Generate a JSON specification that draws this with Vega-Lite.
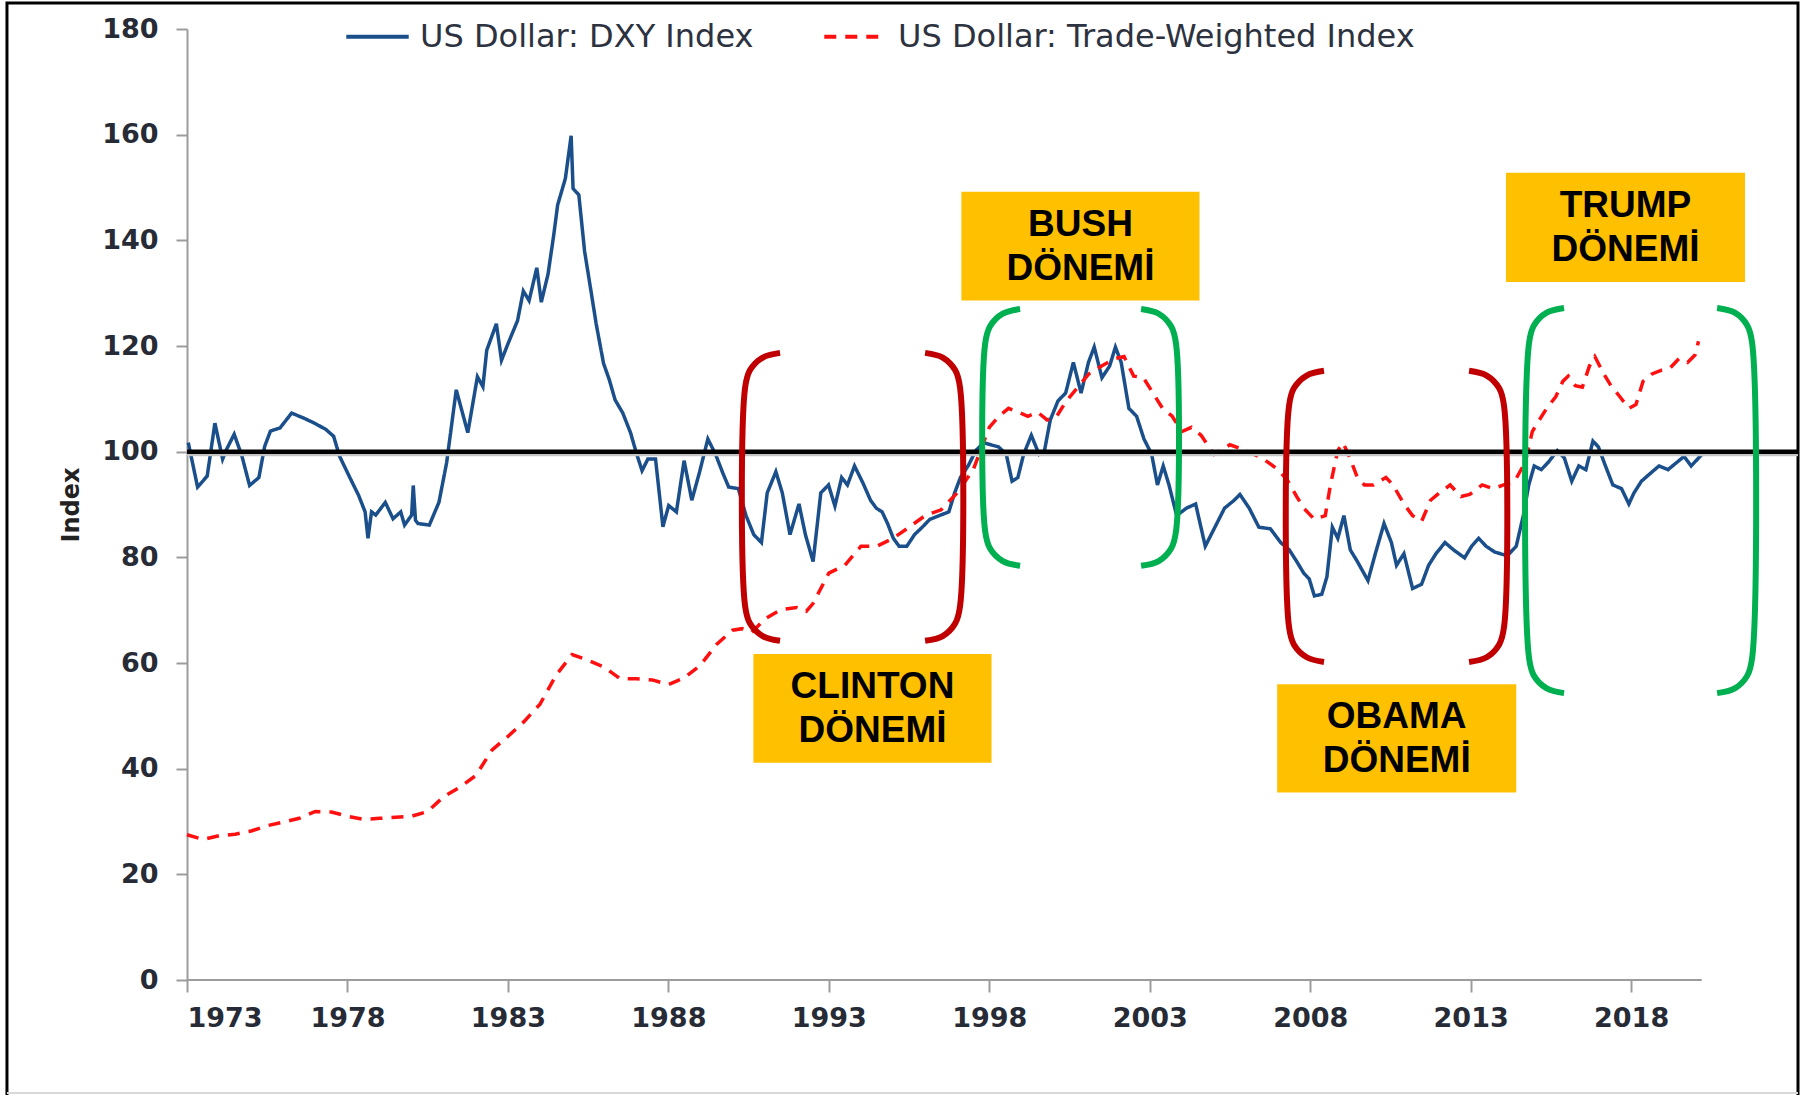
{
  "$schema": "https://vega.github.io/schema/vega-lite/v6.json",
  "autosize": {"type": "none"},
  "width": 1611,
  "height": 951,
  "padding": {"left": 187, "top": 29, "right": 14, "bottom": 115},
  "background": "white",
  "config": {
    "view": {"stroke": null},
    "axis": {"labelFont": "DejaVu Sans", "labelFontWeight": "bold", "labelFontSize": 27, "labelColor": "#262b36", "tickColor": "#9c9c9c", "domainColor": "#9c9c9c", "tickWidth": 2, "domainWidth": 2, "grid": false},
    "legend": {"orient": "none", "legendX": 157, "legendY": -26, "direction": "horizontal", "symbolType": "stroke", "symbolSize": 3900, "symbolStrokeWidth": 4, "labelFont": "DejaVu Sans", "labelFontSize": 32, "labelColor": "#2d3240", "labelLimit": 700, "labelOffset": 9, "columnPadding": 62, "title": null}
  },
  "datasets": {
    "series": [
      {"s":"US Dollar: DXY Index","t":1973.04,"v":101.7},{"s":"US Dollar: DXY Index","t":1973.33,"v":93.3},{"s":"US Dollar: DXY Index","t":1973.63,"v":95.4},{"s":"US Dollar: DXY Index","t":1973.87,"v":105.4},{"s":"US Dollar: DXY Index","t":1974.11,"v":98.6},{"s":"US Dollar: DXY Index","t":1974.23,"v":100.4},{"s":"US Dollar: DXY Index","t":1974.47,"v":103.3},{"s":"US Dollar: DXY Index","t":1974.71,"v":99.2},{"s":"US Dollar: DXY Index","t":1974.95,"v":93.6},{"s":"US Dollar: DXY Index","t":1975.24,"v":95.1},{"s":"US Dollar: DXY Index","t":1975.42,"v":101},{"s":"US Dollar: DXY Index","t":1975.6,"v":103.9},{"s":"US Dollar: DXY Index","t":1975.9,"v":104.5},{"s":"US Dollar: DXY Index","t":1976.26,"v":107.3},{"s":"US Dollar: DXY Index","t":1976.62,"v":106.4},{"s":"US Dollar: DXY Index","t":1976.97,"v":105.4},{"s":"US Dollar: DXY Index","t":1977.33,"v":104.2},{"s":"US Dollar: DXY Index","t":1977.57,"v":102.9},{"s":"US Dollar: DXY Index","t":1977.75,"v":99.2},{"s":"US Dollar: DXY Index","t":1978.05,"v":95.4},{"s":"US Dollar: DXY Index","t":1978.35,"v":91.7},{"s":"US Dollar: DXY Index","t":1978.55,"v":88.6},{"s":"US Dollar: DXY Index","t":1978.64,"v":83.6},{"s":"US Dollar: DXY Index","t":1978.75,"v":88.6},{"s":"US Dollar: DXY Index","t":1978.88,"v":88},{"s":"US Dollar: DXY Index","t":1979.18,"v":90.4},{"s":"US Dollar: DXY Index","t":1979.42,"v":87.3},{"s":"US Dollar: DXY Index","t":1979.66,"v":88.6},{"s":"US Dollar: DXY Index","t":1979.78,"v":86.1},{"s":"US Dollar: DXY Index","t":1980.0,"v":88},{"s":"US Dollar: DXY Index","t":1980.05,"v":93.6},{"s":"US Dollar: DXY Index","t":1980.12,"v":87},{"s":"US Dollar: DXY Index","t":1980.2,"v":86.4},{"s":"US Dollar: DXY Index","t":1980.55,"v":86.1},{"s":"US Dollar: DXY Index","t":1980.85,"v":90.4},{"s":"US Dollar: DXY Index","t":1981.09,"v":97.9},{"s":"US Dollar: DXY Index","t":1981.39,"v":111.7},{"s":"US Dollar: DXY Index","t":1981.75,"v":103.6},{"s":"US Dollar: DXY Index","t":1982.05,"v":114.2},{"s":"US Dollar: DXY Index","t":1982.22,"v":112.3},{"s":"US Dollar: DXY Index","t":1982.34,"v":119.2},{"s":"US Dollar: DXY Index","t":1982.64,"v":124.2},{"s":"US Dollar: DXY Index","t":1982.8,"v":117.3},{"s":"US Dollar: DXY Index","t":1983.0,"v":120.4},{"s":"US Dollar: DXY Index","t":1983.3,"v":124.8},{"s":"US Dollar: DXY Index","t":1983.48,"v":130.4},{"s":"US Dollar: DXY Index","t":1983.66,"v":128.6},{"s":"US Dollar: DXY Index","t":1983.9,"v":134.8},{"s":"US Dollar: DXY Index","t":1984.04,"v":128.3},{"s":"US Dollar: DXY Index","t":1984.25,"v":133.6},{"s":"US Dollar: DXY Index","t":1984.43,"v":141.1},{"s":"US Dollar: DXY Index","t":1984.55,"v":146.7},{"s":"US Dollar: DXY Index","t":1984.79,"v":151.7},{"s":"US Dollar: DXY Index","t":1984.97,"v":159.8},{"s":"US Dollar: DXY Index","t":1985.03,"v":149.8},{"s":"US Dollar: DXY Index","t":1985.21,"v":148.6},{"s":"US Dollar: DXY Index","t":1985.39,"v":137.9},{"s":"US Dollar: DXY Index","t":1985.57,"v":131.1},{"s":"US Dollar: DXY Index","t":1985.75,"v":124.2},{"s":"US Dollar: DXY Index","t":1985.98,"v":116.7},{"s":"US Dollar: DXY Index","t":1986.16,"v":113.6},{"s":"US Dollar: DXY Index","t":1986.34,"v":109.8},{"s":"US Dollar: DXY Index","t":1986.58,"v":107.3},{"s":"US Dollar: DXY Index","t":1986.82,"v":103.6},{"s":"US Dollar: DXY Index","t":1987.0,"v":99.8},{"s":"US Dollar: DXY Index","t":1987.18,"v":96.4},{"s":"US Dollar: DXY Index","t":1987.36,"v":98.6},{"s":"US Dollar: DXY Index","t":1987.6,"v":98.6},{"s":"US Dollar: DXY Index","t":1987.83,"v":85.8},{"s":"US Dollar: DXY Index","t":1988.01,"v":89.8},{"s":"US Dollar: DXY Index","t":1988.25,"v":88.6},{"s":"US Dollar: DXY Index","t":1988.49,"v":98.3},{"s":"US Dollar: DXY Index","t":1988.73,"v":90.8},{"s":"US Dollar: DXY Index","t":1988.97,"v":96.1},{"s":"US Dollar: DXY Index","t":1989.23,"v":102.4},{"s":"US Dollar: DXY Index","t":1989.47,"v":99.5},{"s":"US Dollar: DXY Index","t":1989.7,"v":95.9},{"s":"US Dollar: DXY Index","t":1989.88,"v":93.3},{"s":"US Dollar: DXY Index","t":1990.18,"v":93},{"s":"US Dollar: DXY Index","t":1990.42,"v":87.9},{"s":"US Dollar: DXY Index","t":1990.66,"v":84.3},{"s":"US Dollar: DXY Index","t":1990.9,"v":82.8},{"s":"US Dollar: DXY Index","t":1991.08,"v":92.2},{"s":"US Dollar: DXY Index","t":1991.35,"v":96.2},{"s":"US Dollar: DXY Index","t":1991.55,"v":92.2},{"s":"US Dollar: DXY Index","t":1991.79,"v":84.3},{"s":"US Dollar: DXY Index","t":1992.07,"v":90.1},{"s":"US Dollar: DXY Index","t":1992.27,"v":84.3},{"s":"US Dollar: DXY Index","t":1992.51,"v":79.2},{"s":"US Dollar: DXY Index","t":1992.75,"v":92.2},{"s":"US Dollar: DXY Index","t":1992.99,"v":93.7},{"s":"US Dollar: DXY Index","t":1993.19,"v":89.7},{"s":"US Dollar: DXY Index","t":1993.4,"v":95.1},{"s":"US Dollar: DXY Index","t":1993.58,"v":93.7},{"s":"US Dollar: DXY Index","t":1993.8,"v":97.3},{"s":"US Dollar: DXY Index","t":1994.06,"v":94.1},{"s":"US Dollar: DXY Index","t":1994.3,"v":90.8},{"s":"US Dollar: DXY Index","t":1994.48,"v":89.3},{"s":"US Dollar: DXY Index","t":1994.66,"v":88.6},{"s":"US Dollar: DXY Index","t":1994.83,"v":86.4},{"s":"US Dollar: DXY Index","t":1995.01,"v":83.6},{"s":"US Dollar: DXY Index","t":1995.19,"v":82.1},{"s":"US Dollar: DXY Index","t":1995.43,"v":82.1},{"s":"US Dollar: DXY Index","t":1995.67,"v":84.3},{"s":"US Dollar: DXY Index","t":1995.91,"v":85.7},{"s":"US Dollar: DXY Index","t":1996.15,"v":87.2},{"s":"US Dollar: DXY Index","t":1996.44,"v":87.9},{"s":"US Dollar: DXY Index","t":1996.74,"v":88.6},{"s":"US Dollar: DXY Index","t":1996.92,"v":92.2},{"s":"US Dollar: DXY Index","t":1997.1,"v":95.1},{"s":"US Dollar: DXY Index","t":1997.34,"v":97.3},{"s":"US Dollar: DXY Index","t":1997.58,"v":100.2},{"s":"US Dollar: DXY Index","t":1997.82,"v":101.7},{"s":"US Dollar: DXY Index","t":1998.05,"v":101.3},{"s":"US Dollar: DXY Index","t":1998.29,"v":100.9},{"s":"US Dollar: DXY Index","t":1998.53,"v":99.5},{"s":"US Dollar: DXY Index","t":1998.71,"v":94.4},{"s":"US Dollar: DXY Index","t":1998.89,"v":95.1},{"s":"US Dollar: DXY Index","t":1999.07,"v":99.5},{"s":"US Dollar: DXY Index","t":1999.31,"v":103.1},{"s":"US Dollar: DXY Index","t":1999.55,"v":99.5},{"s":"US Dollar: DXY Index","t":1999.72,"v":100.2},{"s":"US Dollar: DXY Index","t":1999.9,"v":106},{"s":"US Dollar: DXY Index","t":2000.14,"v":109.6},{"s":"US Dollar: DXY Index","t":2000.38,"v":111.1},{"s":"US Dollar: DXY Index","t":2000.62,"v":116.9},{"s":"US Dollar: DXY Index","t":2000.86,"v":111.1},{"s":"US Dollar: DXY Index","t":2001.09,"v":116.9},{"s":"US Dollar: DXY Index","t":2001.27,"v":119.8},{"s":"US Dollar: DXY Index","t":2001.51,"v":114},{"s":"US Dollar: DXY Index","t":2001.75,"v":116.2},{"s":"US Dollar: DXY Index","t":2001.93,"v":119.8},{"s":"US Dollar: DXY Index","t":2002.11,"v":116.9},{"s":"US Dollar: DXY Index","t":2002.35,"v":108.2},{"s":"US Dollar: DXY Index","t":2002.59,"v":106.7},{"s":"US Dollar: DXY Index","t":2002.82,"v":102.4},{"s":"US Dollar: DXY Index","t":2003.06,"v":99.5},{"s":"US Dollar: DXY Index","t":2003.24,"v":93.7},{"s":"US Dollar: DXY Index","t":2003.42,"v":97.3},{"s":"US Dollar: DXY Index","t":2003.6,"v":93.7},{"s":"US Dollar: DXY Index","t":2003.84,"v":87.9},{"s":"US Dollar: DXY Index","t":2004.14,"v":89.3},{"s":"US Dollar: DXY Index","t":2004.43,"v":90.1},{"s":"US Dollar: DXY Index","t":2004.73,"v":82.1},{"s":"US Dollar: DXY Index","t":2005.03,"v":85.7},{"s":"US Dollar: DXY Index","t":2005.33,"v":89.3},{"s":"US Dollar: DXY Index","t":2005.63,"v":90.8},{"s":"US Dollar: DXY Index","t":2005.81,"v":91.9},{"s":"US Dollar: DXY Index","t":2006.1,"v":89.3},{"s":"US Dollar: DXY Index","t":2006.4,"v":85.7},{"s":"US Dollar: DXY Index","t":2006.76,"v":85.4},{"s":"US Dollar: DXY Index","t":2007.08,"v":82.8},{"s":"US Dollar: DXY Index","t":2007.35,"v":81.4},{"s":"US Dollar: DXY Index","t":2007.58,"v":79.2},{"s":"US Dollar: DXY Index","t":2007.8,"v":77},{"s":"US Dollar: DXY Index","t":2007.97,"v":75.9},{"s":"US Dollar: DXY Index","t":2008.13,"v":72.7},{"s":"US Dollar: DXY Index","t":2008.36,"v":73},{"s":"US Dollar: DXY Index","t":2008.52,"v":76.3},{"s":"US Dollar: DXY Index","t":2008.69,"v":85.7},{"s":"US Dollar: DXY Index","t":2008.86,"v":83.6},{"s":"US Dollar: DXY Index","t":2009.05,"v":87.9},{"s":"US Dollar: DXY Index","t":2009.25,"v":81.4},{"s":"US Dollar: DXY Index","t":2009.47,"v":79.2},{"s":"US Dollar: DXY Index","t":2009.8,"v":75.6},{"s":"US Dollar: DXY Index","t":2010.03,"v":80.7},{"s":"US Dollar: DXY Index","t":2010.3,"v":86.4},{"s":"US Dollar: DXY Index","t":2010.53,"v":82.8},{"s":"US Dollar: DXY Index","t":2010.69,"v":78.5},{"s":"US Dollar: DXY Index","t":2010.92,"v":80.7},{"s":"US Dollar: DXY Index","t":2011.19,"v":74.1},{"s":"US Dollar: DXY Index","t":2011.47,"v":74.9},{"s":"US Dollar: DXY Index","t":2011.69,"v":78.5},{"s":"US Dollar: DXY Index","t":2011.92,"v":80.7},{"s":"US Dollar: DXY Index","t":2012.2,"v":82.8},{"s":"US Dollar: DXY Index","t":2012.47,"v":81.4},{"s":"US Dollar: DXY Index","t":2012.81,"v":79.9},{"s":"US Dollar: DXY Index","t":2013.03,"v":82.1},{"s":"US Dollar: DXY Index","t":2013.25,"v":83.6},{"s":"US Dollar: DXY Index","t":2013.48,"v":82.1},{"s":"US Dollar: DXY Index","t":2013.75,"v":81},{"s":"US Dollar: DXY Index","t":2014.14,"v":80.3},{"s":"US Dollar: DXY Index","t":2014.42,"v":82.1},{"s":"US Dollar: DXY Index","t":2014.64,"v":87.9},{"s":"US Dollar: DXY Index","t":2014.81,"v":93.7},{"s":"US Dollar: DXY Index","t":2014.98,"v":97.3},{"s":"US Dollar: DXY Index","t":2015.2,"v":96.6},{"s":"US Dollar: DXY Index","t":2015.42,"v":98},{"s":"US Dollar: DXY Index","t":2015.7,"v":100.2},{"s":"US Dollar: DXY Index","t":2015.92,"v":98.8},{"s":"US Dollar: DXY Index","t":2016.15,"v":94.4},{"s":"US Dollar: DXY Index","t":2016.37,"v":97.3},{"s":"US Dollar: DXY Index","t":2016.59,"v":96.6},{"s":"US Dollar: DXY Index","t":2016.81,"v":102},{"s":"US Dollar: DXY Index","t":2016.98,"v":100.9},{"s":"US Dollar: DXY Index","t":2017.2,"v":97.3},{"s":"US Dollar: DXY Index","t":2017.43,"v":93.7},{"s":"US Dollar: DXY Index","t":2017.7,"v":93},{"s":"US Dollar: DXY Index","t":2017.93,"v":90.1},{"s":"US Dollar: DXY Index","t":2018.09,"v":92.2},{"s":"US Dollar: DXY Index","t":2018.32,"v":94.4},{"s":"US Dollar: DXY Index","t":2018.6,"v":95.9},{"s":"US Dollar: DXY Index","t":2018.87,"v":97.3},{"s":"US Dollar: DXY Index","t":2019.15,"v":96.6},{"s":"US Dollar: DXY Index","t":2019.43,"v":98},{"s":"US Dollar: DXY Index","t":2019.65,"v":99.1},{"s":"US Dollar: DXY Index","t":2019.87,"v":97.3},{"s":"US Dollar: DXY Index","t":2020.21,"v":99.5},
      {"s":"US Dollar: Trade-Weighted Index","t":1973.0,"v":27.5},{"s":"US Dollar: Trade-Weighted Index","t":1973.5,"v":26.6},{"s":"US Dollar: Trade-Weighted Index","t":1974.0,"v":27.3},{"s":"US Dollar: Trade-Weighted Index","t":1974.5,"v":27.6},{"s":"US Dollar: Trade-Weighted Index","t":1975.0,"v":28.2},{"s":"US Dollar: Trade-Weighted Index","t":1975.5,"v":29.2},{"s":"US Dollar: Trade-Weighted Index","t":1976.0,"v":29.9},{"s":"US Dollar: Trade-Weighted Index","t":1976.5,"v":30.6},{"s":"US Dollar: Trade-Weighted Index","t":1977.0,"v":31.9},{"s":"US Dollar: Trade-Weighted Index","t":1977.5,"v":31.8},{"s":"US Dollar: Trade-Weighted Index","t":1978.0,"v":31},{"s":"US Dollar: Trade-Weighted Index","t":1978.5,"v":30.4},{"s":"US Dollar: Trade-Weighted Index","t":1979.0,"v":30.6},{"s":"US Dollar: Trade-Weighted Index","t":1979.5,"v":30.8},{"s":"US Dollar: Trade-Weighted Index","t":1980.0,"v":31},{"s":"US Dollar: Trade-Weighted Index","t":1980.5,"v":31.9},{"s":"US Dollar: Trade-Weighted Index","t":1981.0,"v":34.7},{"s":"US Dollar: Trade-Weighted Index","t":1981.5,"v":36.5},{"s":"US Dollar: Trade-Weighted Index","t":1982.0,"v":38.7},{"s":"US Dollar: Trade-Weighted Index","t":1982.5,"v":43.5},{"s":"US Dollar: Trade-Weighted Index","t":1983.0,"v":46.1},{"s":"US Dollar: Trade-Weighted Index","t":1983.5,"v":48.9},{"s":"US Dollar: Trade-Weighted Index","t":1984.0,"v":52.2},{"s":"US Dollar: Trade-Weighted Index","t":1984.5,"v":57.7},{"s":"US Dollar: Trade-Weighted Index","t":1985.0,"v":61.6},{"s":"US Dollar: Trade-Weighted Index","t":1985.5,"v":60.5},{"s":"US Dollar: Trade-Weighted Index","t":1986.0,"v":59.2},{"s":"US Dollar: Trade-Weighted Index","t":1986.5,"v":57},{"s":"US Dollar: Trade-Weighted Index","t":1987.0,"v":57},{"s":"US Dollar: Trade-Weighted Index","t":1987.5,"v":56.8},{"s":"US Dollar: Trade-Weighted Index","t":1988.0,"v":55.9},{"s":"US Dollar: Trade-Weighted Index","t":1988.5,"v":57.2},{"s":"US Dollar: Trade-Weighted Index","t":1989.0,"v":59.6},{"s":"US Dollar: Trade-Weighted Index","t":1989.5,"v":63.5},{"s":"US Dollar: Trade-Weighted Index","t":1990.0,"v":66.2},{"s":"US Dollar: Trade-Weighted Index","t":1990.3,"v":66.5},{"s":"US Dollar: Trade-Weighted Index","t":1990.6,"v":65.8},{"s":"US Dollar: Trade-Weighted Index","t":1991.0,"v":68.3},{"s":"US Dollar: Trade-Weighted Index","t":1991.5,"v":70.1},{"s":"US Dollar: Trade-Weighted Index","t":1992.0,"v":70.5},{"s":"US Dollar: Trade-Weighted Index","t":1992.3,"v":69.8},{"s":"US Dollar: Trade-Weighted Index","t":1992.5,"v":71.2},{"s":"US Dollar: Trade-Weighted Index","t":1993.0,"v":77},{"s":"US Dollar: Trade-Weighted Index","t":1993.5,"v":78.5},{"s":"US Dollar: Trade-Weighted Index","t":1994.0,"v":82.1},{"s":"US Dollar: Trade-Weighted Index","t":1994.5,"v":82.1},{"s":"US Dollar: Trade-Weighted Index","t":1995.0,"v":83.6},{"s":"US Dollar: Trade-Weighted Index","t":1995.5,"v":85.7},{"s":"US Dollar: Trade-Weighted Index","t":1996.0,"v":87.9},{"s":"US Dollar: Trade-Weighted Index","t":1996.5,"v":89},{"s":"US Dollar: Trade-Weighted Index","t":1997.0,"v":92.2},{"s":"US Dollar: Trade-Weighted Index","t":1997.5,"v":96.6},{"s":"US Dollar: Trade-Weighted Index","t":1998.0,"v":104.6},{"s":"US Dollar: Trade-Weighted Index","t":1998.3,"v":106.7},{"s":"US Dollar: Trade-Weighted Index","t":1998.6,"v":108.2},{"s":"US Dollar: Trade-Weighted Index","t":1998.9,"v":107.5},{"s":"US Dollar: Trade-Weighted Index","t":1999.2,"v":106.7},{"s":"US Dollar: Trade-Weighted Index","t":1999.5,"v":107.5},{"s":"US Dollar: Trade-Weighted Index","t":1999.8,"v":106},{"s":"US Dollar: Trade-Weighted Index","t":2000.1,"v":106.7},{"s":"US Dollar: Trade-Weighted Index","t":2000.4,"v":109.6},{"s":"US Dollar: Trade-Weighted Index","t":2000.8,"v":112.5},{"s":"US Dollar: Trade-Weighted Index","t":2001.1,"v":114.7},{"s":"US Dollar: Trade-Weighted Index","t":2001.5,"v":116.2},{"s":"US Dollar: Trade-Weighted Index","t":2001.9,"v":117.6},{"s":"US Dollar: Trade-Weighted Index","t":2002.2,"v":118},{"s":"US Dollar: Trade-Weighted Index","t":2002.5,"v":114.3},{"s":"US Dollar: Trade-Weighted Index","t":2002.8,"v":114},{"s":"US Dollar: Trade-Weighted Index","t":2003.1,"v":111.1},{"s":"US Dollar: Trade-Weighted Index","t":2003.4,"v":108.2},{"s":"US Dollar: Trade-Weighted Index","t":2003.7,"v":106.7},{"s":"US Dollar: Trade-Weighted Index","t":2004.0,"v":103.8},{"s":"US Dollar: Trade-Weighted Index","t":2004.3,"v":104.6},{"s":"US Dollar: Trade-Weighted Index","t":2004.6,"v":103.1},{"s":"US Dollar: Trade-Weighted Index","t":2005.0,"v":99.5},{"s":"US Dollar: Trade-Weighted Index","t":2005.5,"v":101.3},{"s":"US Dollar: Trade-Weighted Index","t":2006.0,"v":100.2},{"s":"US Dollar: Trade-Weighted Index","t":2006.5,"v":98.8},{"s":"US Dollar: Trade-Weighted Index","t":2007.0,"v":96.6},{"s":"US Dollar: Trade-Weighted Index","t":2007.3,"v":94.5},{"s":"US Dollar: Trade-Weighted Index","t":2007.58,"v":91.5},{"s":"US Dollar: Trade-Weighted Index","t":2007.8,"v":89.3},{"s":"US Dollar: Trade-Weighted Index","t":2008.13,"v":87.2},{"s":"US Dollar: Trade-Weighted Index","t":2008.47,"v":87.9},{"s":"US Dollar: Trade-Weighted Index","t":2008.63,"v":93.7},{"s":"US Dollar: Trade-Weighted Index","t":2008.86,"v":100.2},{"s":"US Dollar: Trade-Weighted Index","t":2009.02,"v":101.7},{"s":"US Dollar: Trade-Weighted Index","t":2009.19,"v":99.5},{"s":"US Dollar: Trade-Weighted Index","t":2009.47,"v":95.1},{"s":"US Dollar: Trade-Weighted Index","t":2009.69,"v":93.7},{"s":"US Dollar: Trade-Weighted Index","t":2009.97,"v":93.7},{"s":"US Dollar: Trade-Weighted Index","t":2010.36,"v":95.1},{"s":"US Dollar: Trade-Weighted Index","t":2010.58,"v":93.7},{"s":"US Dollar: Trade-Weighted Index","t":2010.92,"v":90.1},{"s":"US Dollar: Trade-Weighted Index","t":2011.19,"v":87.9},{"s":"US Dollar: Trade-Weighted Index","t":2011.47,"v":86.8},{"s":"US Dollar: Trade-Weighted Index","t":2011.75,"v":90.8},{"s":"US Dollar: Trade-Weighted Index","t":2012.03,"v":92.2},{"s":"US Dollar: Trade-Weighted Index","t":2012.36,"v":93.7},{"s":"US Dollar: Trade-Weighted Index","t":2012.7,"v":91.5},{"s":"US Dollar: Trade-Weighted Index","t":2012.97,"v":91.9},{"s":"US Dollar: Trade-Weighted Index","t":2013.36,"v":93.7},{"s":"US Dollar: Trade-Weighted Index","t":2013.7,"v":93},{"s":"US Dollar: Trade-Weighted Index","t":2014.03,"v":93.7},{"s":"US Dollar: Trade-Weighted Index","t":2014.37,"v":94.4},{"s":"US Dollar: Trade-Weighted Index","t":2014.7,"v":98},{"s":"US Dollar: Trade-Weighted Index","t":2014.92,"v":103.8},{"s":"US Dollar: Trade-Weighted Index","t":2015.14,"v":106},{"s":"US Dollar: Trade-Weighted Index","t":2015.37,"v":108.2},{"s":"US Dollar: Trade-Weighted Index","t":2015.65,"v":110.4},{"s":"US Dollar: Trade-Weighted Index","t":2015.87,"v":113.3},{"s":"US Dollar: Trade-Weighted Index","t":2016.04,"v":114.3},{"s":"US Dollar: Trade-Weighted Index","t":2016.26,"v":112.5},{"s":"US Dollar: Trade-Weighted Index","t":2016.48,"v":112.2},{"s":"US Dollar: Trade-Weighted Index","t":2016.7,"v":116.2},{"s":"US Dollar: Trade-Weighted Index","t":2016.87,"v":118},{"s":"US Dollar: Trade-Weighted Index","t":2017.15,"v":114.7},{"s":"US Dollar: Trade-Weighted Index","t":2017.37,"v":112.5},{"s":"US Dollar: Trade-Weighted Index","t":2017.65,"v":110.4},{"s":"US Dollar: Trade-Weighted Index","t":2017.93,"v":108.2},{"s":"US Dollar: Trade-Weighted Index","t":2018.15,"v":108.9},{"s":"US Dollar: Trade-Weighted Index","t":2018.37,"v":113.3},{"s":"US Dollar: Trade-Weighted Index","t":2018.65,"v":114.7},{"s":"US Dollar: Trade-Weighted Index","t":2018.93,"v":115.4},{"s":"US Dollar: Trade-Weighted Index","t":2019.21,"v":115.8},{"s":"US Dollar: Trade-Weighted Index","t":2019.49,"v":117.6},{"s":"US Dollar: Trade-Weighted Index","t":2019.76,"v":116.9},{"s":"US Dollar: Trade-Weighted Index","t":2019.99,"v":118.3},{"s":"US Dollar: Trade-Weighted Index","t":2020.1,"v":120.9}
    ],
    "redBrackets": [
      {"b":"CL","i":0,"t":1991.48,"v":118.7},{"b":"CL","i":1,"t":1990.94,"v":117.81},{"b":"CL","i":2,"t":1990.54,"v":115.39},{"b":"CL","i":3,"t":1990.39,"v":112.08},{"b":"CL","i":4,"t":1990.39,"v":70.82},{"b":"CL","i":5,"t":1990.54,"v":67.51},{"b":"CL","i":6,"t":1990.94,"v":65.09},{"b":"CL","i":7,"t":1991.48,"v":64.2},
      {"b":"CR","i":0,"t":1996.0,"v":118.7},{"b":"CR","i":1,"t":1996.55,"v":117.81},{"b":"CR","i":2,"t":1996.94,"v":115.39},{"b":"CR","i":3,"t":1997.09,"v":112.08},{"b":"CR","i":4,"t":1997.09,"v":70.82},{"b":"CR","i":5,"t":1996.94,"v":67.51},{"b":"CR","i":6,"t":1996.55,"v":65.09},{"b":"CR","i":7,"t":1996.0,"v":64.2},
      {"b":"OL","i":0,"t":2008.43,"v":115.3},{"b":"OL","i":1,"t":2007.89,"v":114.41},{"b":"OL","i":2,"t":2007.49,"v":111.99},{"b":"OL","i":3,"t":2007.34,"v":108.68},{"b":"OL","i":4,"t":2007.34,"v":66.82},{"b":"OL","i":5,"t":2007.49,"v":63.51},{"b":"OL","i":6,"t":2007.89,"v":61.09},{"b":"OL","i":7,"t":2008.43,"v":60.2},
      {"b":"OR","i":0,"t":2012.95,"v":115.3},{"b":"OR","i":1,"t":2013.5,"v":114.41},{"b":"OR","i":2,"t":2013.89,"v":111.99},{"b":"OR","i":3,"t":2014.04,"v":108.68},{"b":"OR","i":4,"t":2014.04,"v":66.82},{"b":"OR","i":5,"t":2013.89,"v":63.51},{"b":"OR","i":6,"t":2013.5,"v":61.09},{"b":"OR","i":7,"t":2012.95,"v":60.2}
    ],
    "greenBrackets": [
      {"b":"BL","i":0,"t":1998.96,"v":127.0},{"b":"BL","i":1,"t":1998.42,"v":126.11},{"b":"BL","i":2,"t":1998.02,"v":123.69},{"b":"BL","i":3,"t":1997.87,"v":120.38},{"b":"BL","i":4,"t":1997.87,"v":85.02},{"b":"BL","i":5,"t":1998.02,"v":81.71},{"b":"BL","i":6,"t":1998.42,"v":79.29},{"b":"BL","i":7,"t":1998.96,"v":78.4},
      {"b":"BR","i":0,"t":2002.73,"v":127.0},{"b":"BR","i":1,"t":2003.28,"v":126.11},{"b":"BR","i":2,"t":2003.67,"v":123.69},{"b":"BR","i":3,"t":2003.82,"v":120.38},{"b":"BR","i":4,"t":2003.82,"v":85.02},{"b":"BR","i":5,"t":2003.67,"v":81.71},{"b":"BR","i":6,"t":2003.28,"v":79.29},{"b":"BR","i":7,"t":2002.73,"v":78.4},
      {"b":"TL","i":0,"t":2015.91,"v":127.2},{"b":"TL","i":1,"t":2015.37,"v":126.31},{"b":"TL","i":2,"t":2014.97,"v":123.89},{"b":"TL","i":3,"t":2014.82,"v":120.58},{"b":"TL","i":4,"t":2014.82,"v":60.92},{"b":"TL","i":5,"t":2014.97,"v":57.61},{"b":"TL","i":6,"t":2015.37,"v":55.19},{"b":"TL","i":7,"t":2015.91,"v":54.3},
      {"b":"TR","i":0,"t":2020.68,"v":127.2},{"b":"TR","i":1,"t":2021.23,"v":126.31},{"b":"TR","i":2,"t":2021.62,"v":123.89},{"b":"TR","i":3,"t":2021.77,"v":120.58},{"b":"TR","i":4,"t":2021.77,"v":60.92},{"b":"TR","i":5,"t":2021.62,"v":57.61},{"b":"TR","i":6,"t":2021.23,"v":55.19},{"b":"TR","i":7,"t":2020.68,"v":54.3}
    ],
    "boxes": [
      {"label":"CLINTON\nDÖNEMİ","x1":1990.65,"x2":1998.07,"y1":41.1,"y2":61.7},
      {"label":"BUSH\nDÖNEMİ","x1":1997.13,"x2":2004.55,"y1":128.6,"y2":149.2},
      {"label":"OBAMA\nDÖNEMİ","x1":2006.97,"x2":2014.42,"y1":35.5,"y2":56.0},
      {"label":"TRUMP\nDÖNEMİ","x1":2014.1,"x2":2021.55,"y1":132.1,"y2":152.8}
    ],
    "frame": [
      {"x1": 1967.39, "x2": 2023.2, "y1": -23.5, "y2": 184.9}
    ],
    "frameBottom": [
      {"x1": 1967.39, "x2": 2023.2, "v": -21.4}
    ],
    "refline": [
      {"x1": 1973, "x2": 2023.2, "v": 100}
    ],
    "baseline": [
      {"x1": 1973, "x2": 2020.2, "v": 0}
    ]
  },
  "layer": [
    {
      "data": {"name": "frame"},
      "mark": {"type": "rect", "filled": false, "stroke": "#000000", "strokeWidth": 3, "clip": false},
      "encoding": {
        "x": {"field": "x1", "type": "quantitative"},
        "x2": {"field": "x2"},
        "y": {"field": "y1", "type": "quantitative"},
        "y2": {"field": "y2"}
      }
    },
    {
      "data": {"name": "frameBottom"},
      "mark": {"type": "rule", "stroke": "#d9d9d9", "strokeWidth": 2, "clip": false},
      "encoding": {
        "x": {"field": "x1", "type": "quantitative"},
        "x2": {"field": "x2"},
        "y": {"field": "v", "type": "quantitative"}
      }
    },
    {
      "data": {"name": "series"},
      "mark": {"type": "line", "strokeWidth": 3.5},
      "encoding": {
        "x": {"field": "t", "type": "quantitative", "scale": {"domain": [1973, 2023.2], "nice": false, "zero": false}, "axis": {"values": [1973,1978,1983,1988,1993,1998,2003,2008,2013,2018], "format": "d", "domain": false, "tickSize": 12, "labelPadding": 13, "title": null}},
        "y": {"field": "v", "type": "quantitative", "scale": {"domain": [0, 180], "nice": false}, "axis": {"values": [0,20,40,60,80,100,120,140,160,180], "tickSize": 11, "labelPadding": 18, "title": "Index", "titleFont": "DejaVu Sans", "titleFontWeight": "bold", "titleFontSize": 24, "titleColor": "#222222", "titlePadding": 18}},
        "color": {"field": "s", "type": "nominal", "scale": {"domain": ["US Dollar: DXY Index", "US Dollar: Trade-Weighted Index"], "range": ["#1a4f8b", "#ff1010"]}},
        "strokeDash": {"field": "s", "type": "nominal", "scale": {"domain": ["US Dollar: DXY Index", "US Dollar: Trade-Weighted Index"], "range": [[1, 0], [12, 9]]}}
      }
    },
    {
      "data": {"name": "refline"},
      "mark": {"type": "rule", "stroke": "#c4c4c4", "strokeWidth": 3, "yOffset": 3},
      "encoding": {
        "x": {"field": "x1", "type": "quantitative"},
        "x2": {"field": "x2"},
        "y": {"field": "v", "type": "quantitative"}
      }
    },
    {
      "data": {"name": "refline"},
      "mark": {"type": "rule", "stroke": "#000000", "strokeWidth": 4.5},
      "encoding": {
        "x": {"field": "x1", "type": "quantitative"},
        "x2": {"field": "x2"},
        "y": {"field": "v", "type": "quantitative"}
      }
    },
    {
      "data": {"name": "baseline"},
      "mark": {"type": "rule", "stroke": "#9c9c9c", "strokeWidth": 2},
      "encoding": {
        "x": {"field": "x1", "type": "quantitative"},
        "x2": {"field": "x2"},
        "y": {"field": "v", "type": "quantitative"}
      }
    },
    {
      "data": {"name": "redBrackets"},
      "mark": {"type": "line", "stroke": "#c00000", "strokeWidth": 6, "interpolate": "catmull-rom", "strokeCap": "butt"},
      "encoding": {
        "x": {"field": "t", "type": "quantitative"},
        "y": {"field": "v", "type": "quantitative"},
        "detail": {"field": "b"},
        "order": {"field": "i", "type": "quantitative"}
      }
    },
    {
      "data": {"name": "greenBrackets"},
      "mark": {"type": "line", "stroke": "#00b050", "strokeWidth": 6, "interpolate": "catmull-rom", "strokeCap": "butt"},
      "encoding": {
        "x": {"field": "t", "type": "quantitative"},
        "y": {"field": "v", "type": "quantitative"},
        "detail": {"field": "b"},
        "order": {"field": "i", "type": "quantitative"}
      }
    },
    {
      "data": {"name": "boxes"},
      "mark": {"type": "rect", "fill": "#ffc000"},
      "encoding": {
        "x": {"field": "x1", "type": "quantitative"},
        "x2": {"field": "x2"},
        "y": {"field": "y1", "type": "quantitative"},
        "y2": {"field": "y2"}
      }
    },
    {
      "data": {"name": "boxes"},
      "transform": [
        {"calculate": "(datum.x1 + datum.x2) / 2", "as": "xc"},
        {"calculate": "(datum.y1 + datum.y2) / 2", "as": "yc"}
      ],
      "mark": {"type": "text", "font": "Liberation Sans", "fontWeight": "bold", "fontSize": 37, "lineHeight": 44, "lineBreak": "\n", "align": "center", "baseline": "middle", "dy": -21, "color": "#000000"},
      "encoding": {
        "x": {"field": "xc", "type": "quantitative"},
        "y": {"field": "yc", "type": "quantitative"},
        "text": {"field": "label"}
      }
    }
  ]
}
